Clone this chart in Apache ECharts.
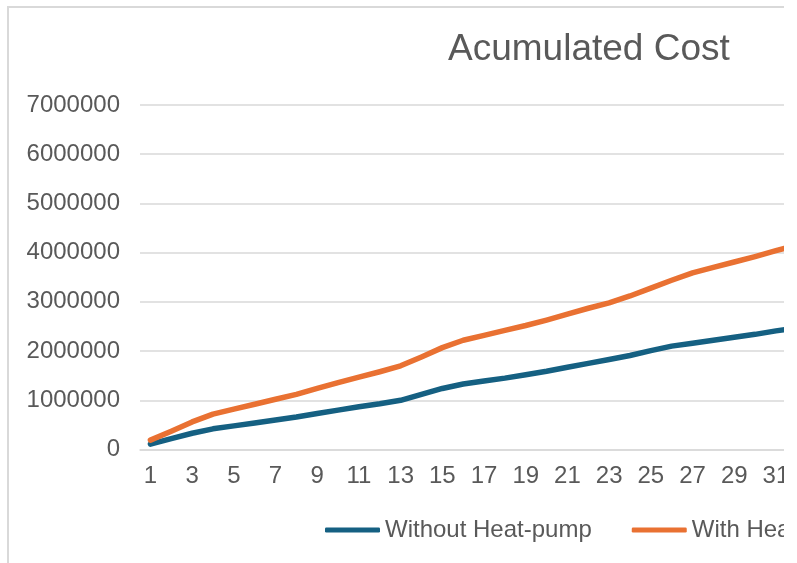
<!DOCTYPE html>
<html>
<head>
	<meta charset="utf-8">
	<title>Acumulated Cost</title>
	<style>
		body{margin:0;background:#fff;overflow:hidden}
		#clip{position:absolute;left:0;top:0;width:784px;height:563px;overflow:hidden}
		#frame{position:absolute;left:7px;top:6px;width:1300px;height:700px;border:2px solid #d9d9d9}
		#main{position:absolute;left:0;top:0;width:1200px;height:563px}
	</style>
</head>
<body>
<div id="clip">
	<div id="frame"></div>
	<div id="main"></div>
</div>
<script src="https://cdn.jsdelivr.net/npm/echarts@6/dist/echarts.min.js"></script>
<script>
	// years 1..32 (the picture is cut after 31)
	var years = [];
	for (var i = 1; i <= 32; i++) years.push(String(i));

	var withoutHP = [110000, 220000, 330000, 420000, 480000, 540000, 600000, 660000, 730000, 800000,
		870000, 930000, 1000000, 1120000, 1240000, 1330000, 1390000, 1450000, 1520000, 1590000,
		1670000, 1750000, 1830000, 1910000, 2010000, 2100000, 2160000, 2220000, 2280000, 2340000,
		2410000, 2470000];
	var withHP = [190000, 370000, 560000, 720000, 820000, 920000, 1020000, 1120000, 1240000, 1360000,
		1470000, 1580000, 1700000, 1880000, 2070000, 2220000, 2320000, 2420000, 2520000, 2630000,
		2750000, 2870000, 2980000, 3120000, 3280000, 3440000, 3590000, 3700000, 3810000, 3920000,
		4040000, 4150000];

	var txt = '#595959';
	var fnt = '"Liberation Sans", Arial, sans-serif';

	var myChart = echarts.init(document.getElementById('main'));
	var option = {
		animation: false,
		textStyle: {fontFamily: fnt},
		color: ['#156082', '#E97132'],
		title: {
			text: 'Acumulated Cost',
			left: 448,
			top: 31,
			padding: 0,
			textStyle: {color: txt, fontSize: 37, fontWeight: 'normal', fontFamily: fnt, lineHeight: 38}
		},
		legend: {
			left: 325,
			top: 518,
			padding: 0,
			icon: 'roundRect',
			itemWidth: 55,
			itemHeight: 5,
			itemGap: 40,
			itemTextGap: 5,
			textStyle: {color: txt, fontSize: 24, fontFamily: fnt, lineHeight: 24}
		},
		grid: {left: 140, top: 105, bottom: 113.5, width: 667.2, containLabel: false},
		xAxis: {
			type: 'category',
			data: years,
			boundaryGap: true,
			axisTick: {show: false},
			axisLine: {lineStyle: {color: '#d9d9d9', width: 1.5}},
			axisLabel: {color: txt, fontSize: 24, fontFamily: fnt, margin: 15, interval: 1, lineHeight: 24}
		},
		yAxis: {
			type: 'value',
			min: 0,
			max: 7000000,
			interval: 1000000,
			axisLine: {show: false},
			axisTick: {show: false},
			splitLine: {lineStyle: {color: '#d9d9d9', width: 1.5}},
			axisLabel: {color: txt, fontSize: 24, fontFamily: fnt, margin: 20,
				formatter: function (v) { return String(v); }}
		},
		series: [
			{
				name: 'Without Heat-pump',
				type: 'line',
				data: withoutHP,
				showSymbol: false,
				lineStyle: {width: 5.5, cap: 'round', join: 'round'}
			},
			{
				name: 'With Heat-pump',
				type: 'line',
				data: withHP,
				showSymbol: false,
				lineStyle: {width: 5.5, cap: 'round', join: 'round'}
			}
		]
	};
	myChart.setOption(option);
</script>
</body>
</html>
